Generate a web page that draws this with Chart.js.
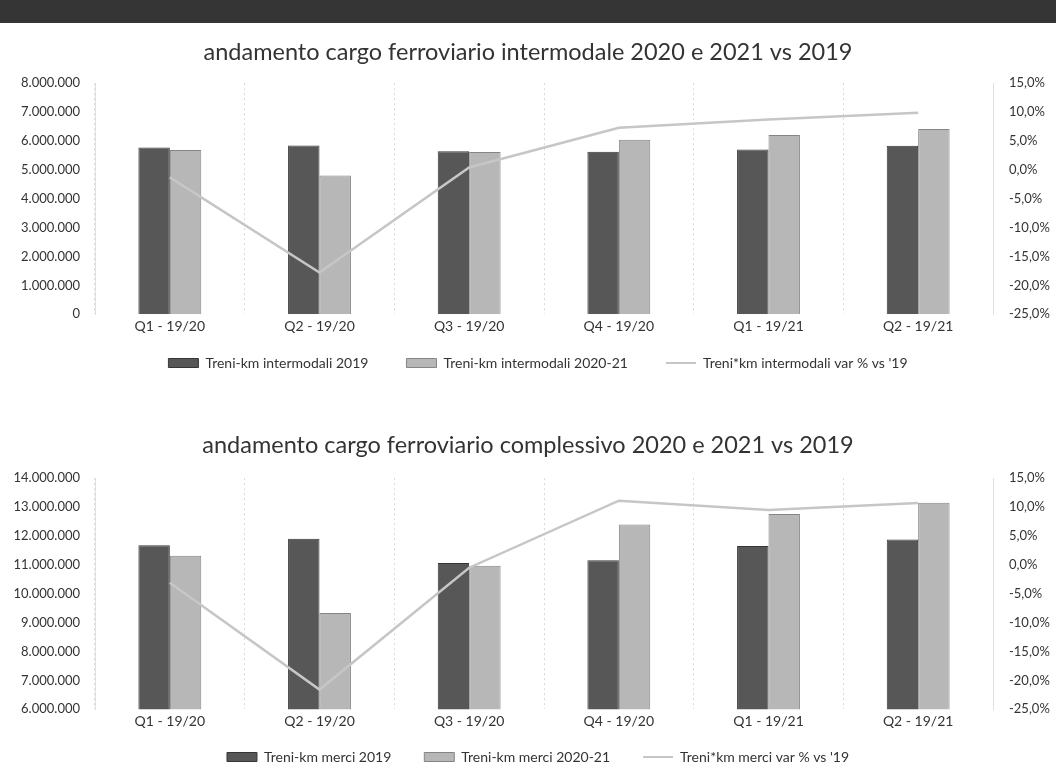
<!DOCTYPE html>
<html>
<head>
<meta charset="utf-8">
<script src="https://cdn.jsdelivr.net/npm/chart.js@4.4.1/dist/chart.umd.min.js"></script>
<style>
    body { margin: 0; width: 1056px; height: 769px; background: #fff; overflow: hidden; position: relative; }
    .band { position: absolute; left: 0; top: 0; width: 1056px; height: 23px; background: #353535; }
    .box { position: absolute; left: 0; width: 1056px; }
    #box1 { top: 26px; height: 375px; }
    #box2 { top: 412px; height: 379px; }
</style>
</head>
<body>
<div class="band"></div>
<div class="box" id="box1"><canvas id="intermodale"></canvas></div>
<div class="box" id="box2"><canvas id="complessivo"></canvas></div>
<script>
const quarters = ['Q1 - 19/20', 'Q2 - 19/20', 'Q3 - 19/20', 'Q4 - 19/20', 'Q1 - 19/21', 'Q2 - 19/21']

// intermodale
const inter2019 = [5770000, 5840000, 5640000, 5630000, 5700000, 5830000]
const inter2020 = [5690000, 4800000, 5620000, 6040000, 6210000, 6410000]
const interVar = [-1.3, -17.8, 0.4, 7.3, 8.7, 9.9]

// complessivo
const merci2019 = [11680000, 11900000, 11060000, 11160000, 11650000, 11880000]
const merci2020 = [11310000, 9330000, 10970000, 12400000, 12760000, 13150000]
const merciVar = [-3.1, -21.6, -0.5, 11.1, 9.5, 10.7]

const pctTicks = [-25, -20, -15, -10, -5, 0, 5, 10, 15]

const FONT = 'Lato, "Open Sans", sans-serif'
const DARK = '#575757'
const LIGHT = '#b7b7b7'
const LINE = '#c6c6c6'

function thousands(v) {
    return Math.round(v).toString().replace(/\B(?=(\d{3})+(?!\d))/g, '.')
}
function percent(v) {
    return v.toFixed(1).replace('.', ',') + '%'
}

// the legend sits closer to the axis than its item spacing would allow
const legendShift = {
    id: 'legendShift',
    afterLayout(chart, args, opts) {
        chart.legend.top -= opts.dy
        chart.legend.bottom -= opts.dy
        chart.legend.left += opts.dx
        chart.legend.right += opts.dx
    }
}

function makeChart(id, title, labels, data2019, data2020, dataVar, yMin, yMax, pad) {
    return new Chart(document.getElementById(id), {
        data: {
            labels: quarters,
            datasets: [
                {
                    type: 'bar', label: labels[0], data: data2019, yAxisID: 'y', order: 1,
                    backgroundColor: DARK, borderColor: '#363636', borderWidth: 1,
                    categoryPercentage: 0.42, barPercentage: 1
                },
                {
                    type: 'bar', label: labels[1], data: data2020, yAxisID: 'y', order: 1,
                    backgroundColor: LIGHT, borderColor: '#858585', borderWidth: 1,
                    categoryPercentage: 0.42, barPercentage: 1
                },
                {
                    type: 'line', label: labels[2], data: dataVar, yAxisID: 'y1', order: 0,
                    borderColor: LINE, backgroundColor: LINE, borderWidth: 2.5,
                    pointRadius: 0, tension: 0
                }
            ]
        },
        plugins: [legendShift],
        options: {
            responsive: true,
            maintainAspectRatio: false,
            animation: false,
            plugins: {
                legendShift: { dy: pad.legendShift, dx: 10 },
                title: {
                    display: true, text: title, color: '#333',
                    font: { family: FONT, size: 23.5, weight: 'normal' },
                    padding: { top: pad.titleTop, bottom: pad.titleBottom }
                },
                legend: {
                    position: 'bottom',
                    labels: {
                        color: '#333', font: { family: FONT, size: 14 },
                        usePointStyle: true, pointStyleWidth: 30, boxHeight: 9,
                        padding: pad.legendGap,
                        sort: (a, b) => a.datasetIndex - b.datasetIndex,
                        generateLabels: chart => chart.data.datasets.map((ds, i) => ({
                            text: ds.label,
                            datasetIndex: i,
                            fillStyle: ds.backgroundColor,
                            strokeStyle: ds.borderColor,
                            lineWidth: ds.type === 'line' ? 2 : 1,
                            pointStyle: ds.type === 'line' ? 'line' : 'rect',
                            fontColor: '#333'
                        }))
                    }
                },
                tooltip: { enabled: false }
            },
            scales: {
                x: {
                    grid: { offset: true, color: '#d9d9d9', drawTicks: false, lineWidth: 1 },
                    border: { display: false, dash: [2, 3] },
                    ticks: { color: '#333', font: { family: FONT, size: 14 }, padding: 4 }
                },
                y: {
                    position: 'left', min: yMin, max: yMax,
                    ticks: { stepSize: 1000000, color: '#333', font: { family: FONT, size: 13 }, padding: 7, callback: v => thousands(v) },
                    grid: { display: false },
                    border: { display: true, color: '#e0e0e0', dash: [2, 4] },
                    afterFit: scale => { scale.width = 95 }
                },
                y1: {
                    position: 'right', min: -25, max: 15,
                    afterBuildTicks: scale => { scale.ticks = pctTicks.map(v => ({ value: v })) },
                    ticks: { color: '#333', font: { family: FONT, size: 13 }, padding: 8, callback: v => percent(v) },
                    grid: { display: false },
                    border: { display: true, color: '#e0e0e0', dash: [2, 4] },
                    afterFit: scale => { scale.width = 63 }
                }
            }
        }
    })
}

makeChart('intermodale', 'andamento cargo ferroviario intermodale 2020 e 2021 vs 2019',
    ['Treni-km intermodali 2019', 'Treni-km intermodali 2020-21', "Treni*km intermodali var % vs '19"],
    inter2019, inter2020, interVar, 0, 8000000,
    { titleTop: 12, titleBottom: 17, legendShift: 21, legendGap: 38 })

makeChart('complessivo', 'andamento cargo ferroviario complessivo 2020 e 2021 vs 2019',
    ['Treni-km merci 2019', 'Treni-km merci 2020-21', "Treni*km merci var % vs '19"],
    merci2019, merci2020, merciVar, 6000000, 14000000,
    { titleTop: 19, titleBottom: 19, legendShift: 17, legendGap: 33 })
</script>
</body>
</html>
